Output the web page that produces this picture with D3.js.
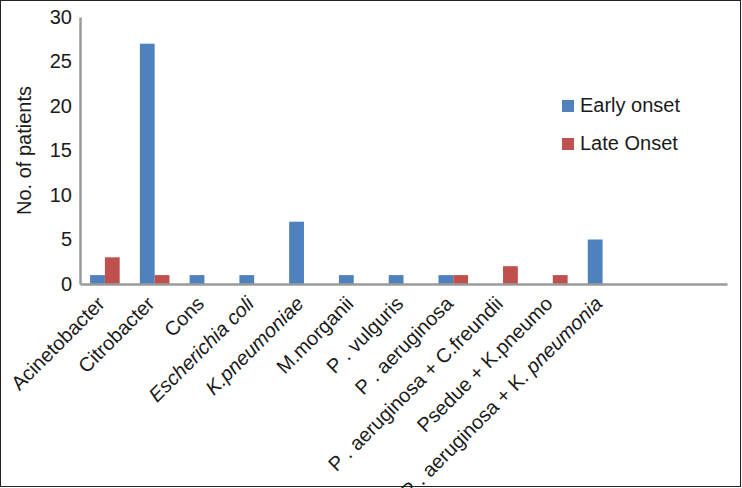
<!DOCTYPE html>
<html>
<head>
<meta charset="utf-8">
<script src="https://cdn.jsdelivr.net/npm/d3@7"></script>
<style>
  body { margin: 0; background: #fff; }
  svg { display: block; font-family: "Liberation Sans", Arial, sans-serif; }
</style>
</head>
<body>
<svg width="742" height="488"></svg>
<script>
// category keys, with two empty slots at the end like the original
const categories = ["c0", "c1", "c2", "c3", "c4", "c5", "c6", "c7", "c8", "c9", "c10", "e1", "e2"];
// label pieces: [text, italic?]
const labels = [
  [["Acinetobacter", false]],
  [["Citrobacter", false]],
  [["Cons", false]],
  [["Escherichia coli", true]],
  [["K.pneumoniae", true]],
  [["M.morganii", false]],
  [["P . vulguris", false]],
  [["P . aeruginosa", false]],
  [["P . aeruginosa + C.freundii", false]],
  [["Psedue + K.pneumo", false]],
  [["P . aeruginosa + K. ", false], ["pneumonia", true]],
  [],
  []
];
const series = ["Early onset", "Late Onset"];
const earlyOnset = [1, 27, 1, 1, 7, 1, 1, 1, 0, 0, 5, 0, 0];
const lateOnset = [3, 1, 0, 0, 0, 0, 0, 1, 2, 1, 0, 0, 0];
const yTicks = [0, 5, 10, 15, 20, 25, 30];
const colors = ["#4F81BD", "#C0504D"];

const width = 742;
const height = 488;
const plotLeft = 80, plotRight = 727, plotTop = 17, plotBottom = 284;
const fontSize = 20;

const svg = d3.select("svg");

// frame round the picture
svg.append("rect")
  .attr("x", 0.5).attr("y", 0.5)
  .attr("width", width - 2).attr("height", height - 2)
  .attr("fill", "none").attr("stroke", "#222").attr("stroke-width", 1);

let xScale = d3.scaleBand().domain(categories).range([plotLeft, plotRight]).paddingInner(0).paddingOuter(0);
let yScale = d3.scaleLinear().domain([0, 30]).range([plotBottom, plotTop]);
let inner = d3.scaleBand().domain(series).range([0, 29.6]);
const offset = (xScale.bandwidth() - 29.6) / 2;

let data = categories.map((c, i) => [earlyOnset[i], lateOnset[i]]);

let groups = svg.append("g").selectAll("g")
  .data(data)
  .enter()
  .append("g")
  .attr("transform", (d, i) => "translate(" + (xScale(categories[i]) + offset) + ",0)");

groups.selectAll("rect")
  .data((d) => d.map((v, j) => ({ v: v, s: series[j], j: j })).filter((d) => d.v > 0))
  .enter()
  .append("rect")
  .attr("x", (d) => inner(d.s))
  .attr("width", inner.bandwidth())
  .attr("y", (d) => yScale(d.v))
  .attr("height", (d) => plotBottom - yScale(d.v))
  .attr("fill", (d) => colors[d.j]);

// y axis
let yAxis = d3.axisLeft(yScale).tickValues(yTicks).tickSize(0).tickPadding(8);
let yg = svg.append("g")
  .attr("transform", "translate(" + plotLeft + ",0)")
  .call(yAxis);
yg.select(".domain").attr("stroke", "#9a9a9a").attr("stroke-width", 2.5);
yg.selectAll("text").attr("font-size", fontSize).attr("fill", "#1a1a1a")
  .attr("font-family", "Liberation Sans, Arial, sans-serif");

// x axis
let xAxis = d3.axisBottom(xScale).tickSize(0).tickFormat("");
let xg = svg.append("g")
  .attr("transform", "translate(0," + plotBottom + ")")
  .call(xAxis);
xg.select(".domain").attr("stroke", "#9a9a9a").attr("stroke-width", 2.5);

// rotated category labels (the last one runs off the bottom, as in the original)
categories.forEach((c, i) => {
  const cx = xScale(c) + xScale.bandwidth() / 2 + 1;
  const t = svg.append("text")
    .attr("transform", "translate(" + cx + "," + (plotBottom + 21) + ") rotate(-45)")
    .attr("text-anchor", "end")
    .attr("font-size", fontSize)
    .attr("fill", "#1a1a1a");
  labels[i].forEach((p) => {
    t.append("tspan").attr("font-style", p[1] ? "italic" : "normal").text(p[0]);
  });
});

// y title
svg.append("text")
  .attr("transform", "translate(31," + (plotTop + plotBottom) / 2 + ") rotate(-90)")
  .attr("text-anchor", "middle")
  .attr("font-size", fontSize)
  .attr("fill", "#1a1a1a")
  .text("No. of patients");

// legend
let legend = svg.append("g").attr("transform", "translate(562,100)");
series.forEach((s, j) => {
  legend.append("rect")
    .attr("x", 0).attr("y", j * 38)
    .attr("width", 12).attr("height", 12)
    .attr("fill", colors[j]);
  legend.append("text")
    .attr("x", 18).attr("y", j * 38 + 12)
    .attr("font-size", fontSize)
    .attr("fill", "#1a1a1a")
    .text(s);
});
</script>
</body>
</html>
